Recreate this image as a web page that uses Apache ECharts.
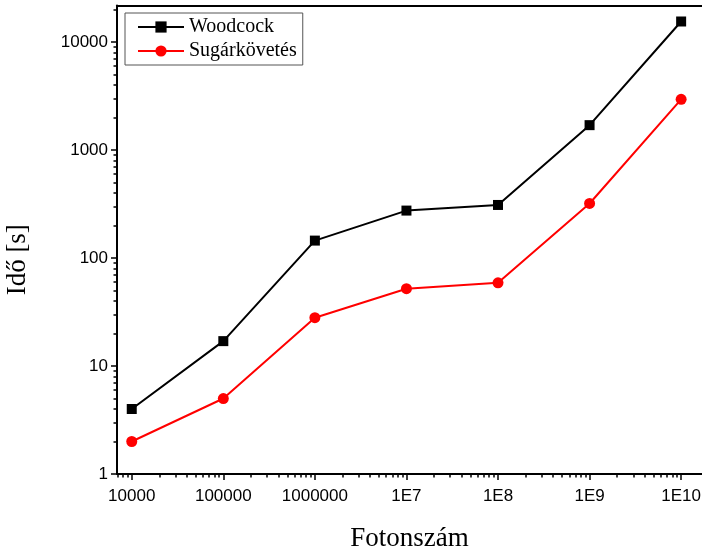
<!DOCTYPE html>
<html>
<head>
<meta charset="utf-8">
<script src="https://cdn.jsdelivr.net/npm/echarts@6/dist/echarts.min.js"></script>
<style>
  html, body { margin: 0; padding: 0; background: #fff; }
  #chart { width: 702px; height: 554px; }
</style>
</head>
<body>
<div id="chart"></div>
<script>
// photon counts on the x axis (log)
const photons = [1e4, 1e5, 1e6, 1e7, 1e8, 1e9, 1e10];
const woodcock = [4, 17, 145, 275, 310, 1700, 15500];
const sugarkovetes = [2, 5, 28, 52, 59, 320, 2950];

const xTickValues = [1e4, 1e5, 1e6, 1e7, 1e8, 1e9, 1e10];
const xTickLabels = ["10000", "100000", "1000000", "1E7", "1E8", "1E9", "1E10"];
const yTickValues = [1, 10, 100, 1000, 10000];
const yTickLabels = ["1", "10", "100", "1000", "10000"];

const X_MIN = 6900, X_MAX = 1.69e10;
const Y_MIN = 1, Y_MAX = 21800;

const SERIF = "'Liberation Serif', 'Times New Roman', serif";
const SANS = "'Liberation Sans', Arial, sans-serif";

// minor ticks at 2..9 of every decade
function minorTicks(lo, hi) {
  const out = [];
  for (let d = Math.floor(Math.log10(lo)); d <= Math.ceil(Math.log10(hi)); d++) {
    for (let k = 2; k <= 9; k++) {
      const v = k * Math.pow(10, d);
      if (v > lo && v < hi) out.push(v);
    }
  }
  return out;
}

function labelFor(values, labels) {
  return v => {
    const i = values.findIndex(t => Math.abs(Math.log10(t) - Math.log10(v)) < 1e-6);
    return i >= 0 ? labels[i] : "";
  };
}

const axisLine = { show: true, lineStyle: { color: "#000", width: 2 } };

const chart = echarts.init(document.getElementById("chart"));
chart.setOption({
  animation: false,
  grid: { left: 117, right: 0, top: 5.5, bottom: 80, outerBoundsMode: "none" },
  legend: {
    orient: "vertical",
    left: 125,
    top: 13,
    padding: [4, 6, 4, 12],
    itemGap: 4,
    itemWidth: 46,
    itemHeight: 14,
    borderColor: "#555",
    borderWidth: 1,
    lineStyle: { width: 2 },
    textStyle: { fontFamily: SERIF, fontSize: 20, color: "#000" },
    data: ["Woodcock", "Sugárkövetés"],
  },
  xAxis: [
    {
      type: "log",
      position: "bottom",
      min: X_MIN, max: X_MAX,
      name: "Fotonszám",
      nameLocation: "middle",
      nameGap: 51,
      nameTextStyle: { fontFamily: SERIF, fontSize: 27, color: "#000" },
      axisLine,
      axisTick: { customValues: xTickValues, length: 6, lineStyle: { color: "#000", width: 1.5 } },
      axisLabel: {
        customValues: xTickValues,
        formatter: labelFor(xTickValues, xTickLabels),
        margin: 14, fontFamily: SANS, fontSize: 17, color: "#000",
      },
      splitLine: { show: false },
      minorTick: { show: false },
    },
    {
      type: "log",
      position: "bottom",
      min: X_MIN, max: X_MAX,
      axisLine: { show: false },
      axisTick: { customValues: minorTicks(X_MIN, X_MAX), length: 3.5, lineStyle: { color: "#000", width: 1.5 } },
      axisLabel: { show: false },
      splitLine: { show: false },
    },
    {
      type: "log",
      position: "top",
      min: X_MIN, max: X_MAX,
      axisLine,
      axisTick: { show: false },
      axisLabel: { show: false },
      splitLine: { show: false },
    },
  ],
  yAxis: [
    {
      type: "log",
      position: "left",
      min: Y_MIN, max: Y_MAX,
      name: "Idő [s]",
      nameLocation: "middle",
      nameGap: 86,
      nameTextStyle: { fontFamily: SERIF, fontSize: 27, color: "#000", padding: [0, 40, 0, 0] },
      axisLine,
      axisTick: { customValues: yTickValues, length: 6, lineStyle: { color: "#000", width: 1.5 } },
      axisLabel: {
        customValues: yTickValues,
        formatter: labelFor(yTickValues, yTickLabels),
        margin: 9, fontFamily: SANS, fontSize: 17, color: "#000",
      },
      splitLine: { show: false },
      minorTick: { show: false },
    },
    {
      type: "log",
      position: "left",
      min: Y_MIN, max: Y_MAX,
      axisLine: { show: false },
      axisTick: { customValues: minorTicks(Y_MIN, Y_MAX), length: 3.5, lineStyle: { color: "#000", width: 1.5 } },
      axisLabel: { show: false },
      splitLine: { show: false },
    },
  ],
  series: [
    {
      name: "Woodcock",
      type: "line",
      xAxisIndex: 0, yAxisIndex: 0,
      symbol: "rect",
      symbolSize: 10,
      itemStyle: { color: "#000" },
      lineStyle: { color: "#000", width: 2 },
      data: photons.map((x, i) => [x, woodcock[i]]),
    },
    {
      name: "Sugárkövetés",
      type: "line",
      xAxisIndex: 0, yAxisIndex: 0,
      symbol: "circle",
      symbolSize: 11,
      itemStyle: { color: "#ff0000" },
      lineStyle: { color: "#ff0000", width: 2 },
      data: photons.map((x, i) => [x, sugarkovetes[i]]),
    },
  ],
});
</script>
</body>
</html>
